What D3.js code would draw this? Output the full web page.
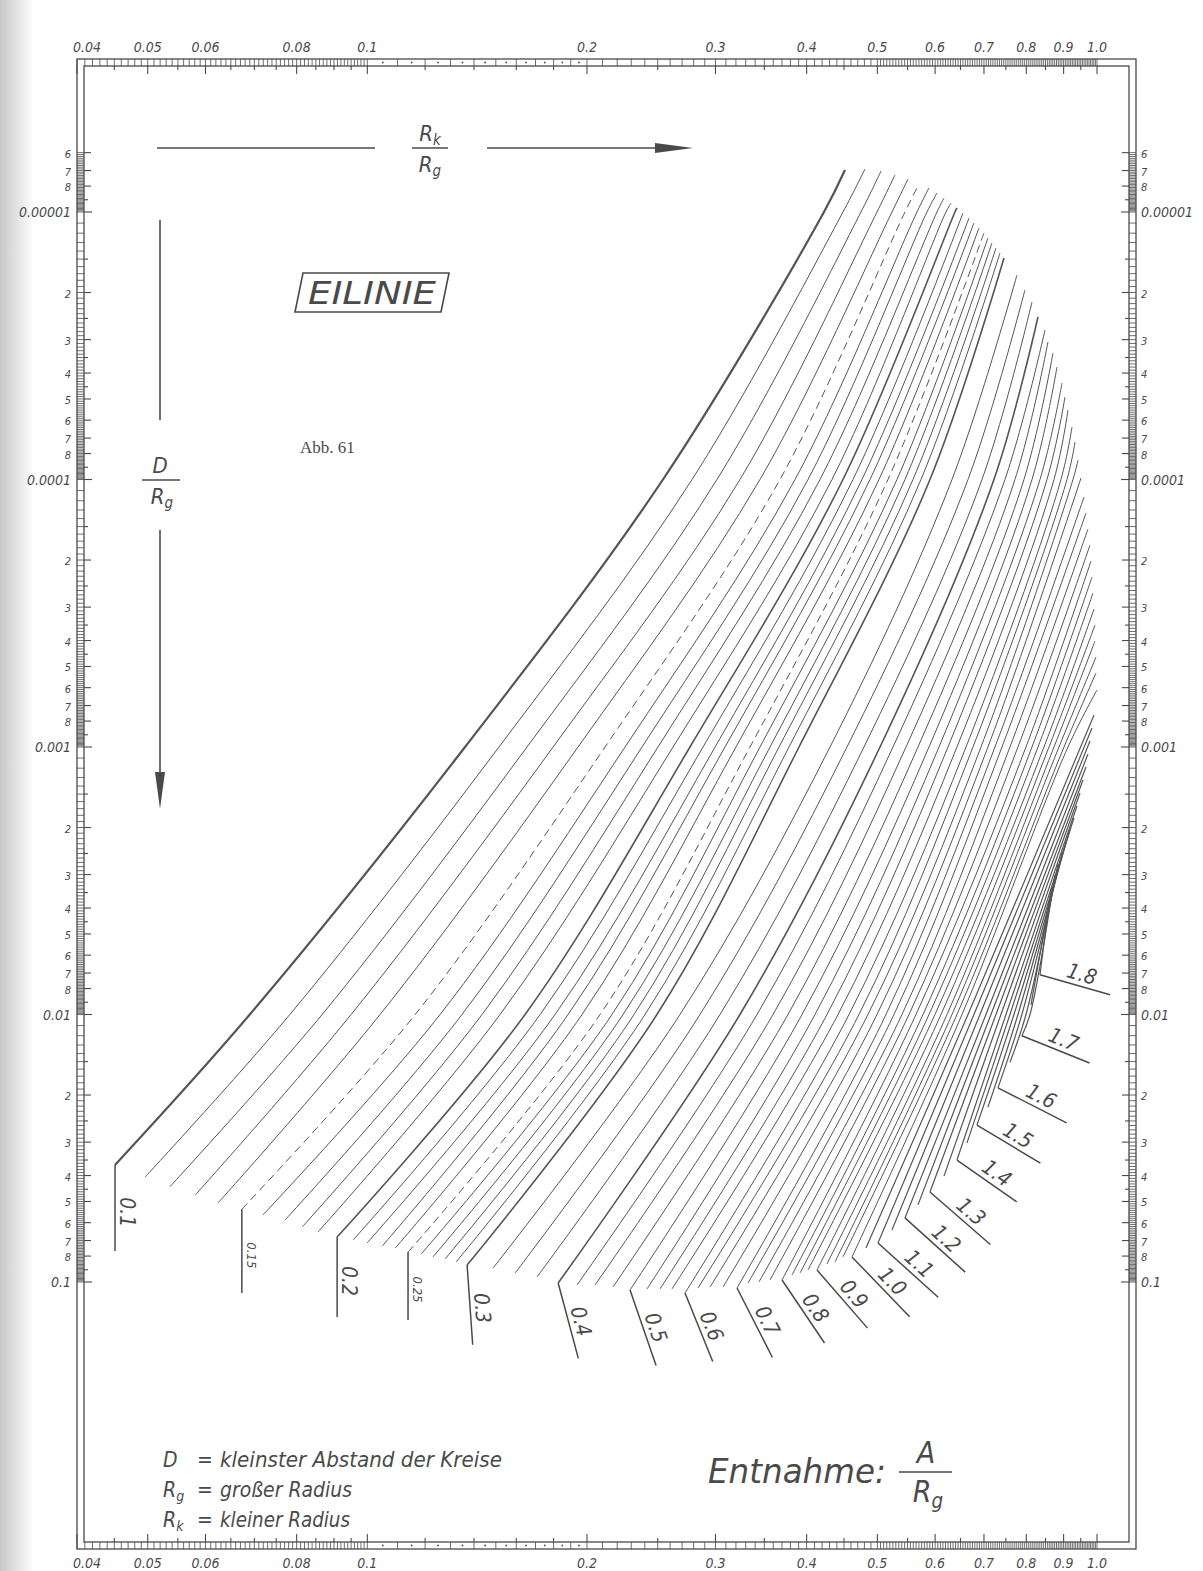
<!DOCTYPE html>
<html>
<head>
<meta charset="utf-8">
<script src="https://cdn.jsdelivr.net/npm/d3@7"></script>
<style>
  body { margin: 0; background: #fff; }
  svg { display: block; }
  text { font-family: "Liberation Sans Narrow", "DejaVu Sans Condensed", "DejaVu Sans", sans-serif; font-style: italic; fill: #4a4a4a; }
</style>
</head>
<body>
<svg id="chart" width="1203" height="1571"></svg>
<script>
// A/Rg of every curve
const aValues = [
  0.10, 0.11, 0.12, 0.13, 0.14, 0.15, 0.16, 0.17, 0.18, 0.19, 0.20, 0.21, 0.22, 0.23, 0.24, 0.25, 0.26, 0.27, 0.28, 0.29, 0.30,
  0.325, 0.35, 0.375, 0.40, 0.425, 0.45, 0.475, 0.50, 0.525, 0.55, 0.575, 0.60, 0.625, 0.65, 0.675, 0.70,
  0.725, 0.75, 0.775, 0.80, 0.825, 0.85, 0.875, 0.90, 0.925, 0.95, 0.975, 1.00,
  1.05, 1.10, 1.15, 1.20, 1.25, 1.30, 1.35, 1.40, 1.45, 1.50, 1.55, 1.60, 1.65, 1.70, 1.75, 1.80
];
// lower end of each curve (Rk/Rg, D/Rg)
const startRk = [
  0.0451, 0.0496, 0.0536, 0.0581, 0.0624, 0.0673, 0.0719, 0.0771, 0.0814, 0.0856, 0.0909, 0.0956, 0.0999, 0.1048, 0.1092, 0.1137, 0.1185, 0.1230, 0.1278, 0.1323, 0.1370,
  0.1487, 0.1594, 0.1708, 0.1826, 0.1938, 0.2051, 0.2171, 0.2291, 0.2417, 0.2518, 0.2615, 0.2725, 0.2839, 0.2949, 0.3072, 0.3211,
  0.3324, 0.3441, 0.3563, 0.3701, 0.3819, 0.3917, 0.4017, 0.4133, 0.4265, 0.4374, 0.4486, 0.4615,
  0.4823, 0.5010, 0.5236, 0.5455, 0.5684, 0.5903, 0.6170, 0.6428, 0.6635, 0.6847, 0.7088, 0.7316, 0.7598, 0.7889, 0.8119, 0.8353
];
const startD = [
  0.0365, 0.0405, 0.0441, 0.0473, 0.0507, 0.0534, 0.0562, 0.0587, 0.0623, 0.0650, 0.0679, 0.0697, 0.0715, 0.0734, 0.0747, 0.0773, 0.0786, 0.0806, 0.0820, 0.0842, 0.0864,
  0.0887, 0.0926, 0.0958, 0.1009, 0.1026, 0.1026, 0.1044, 0.1071, 0.1062, 0.1062, 0.1062, 0.1099, 0.1053, 0.1044, 0.1044, 0.1053,
  0.1009, 0.1000, 0.0983, 0.0983, 0.0942, 0.0926, 0.0902, 0.0902, 0.0856, 0.0842, 0.0806, 0.0806,
  0.0747, 0.0715, 0.0639, 0.0576, 0.0515, 0.0461, 0.0402, 0.0350, 0.0302, 0.0259, 0.0222, 0.0188, 0.0151, 0.0120, 0.0092, 0.0071
];
// Rk/Rg where each curve crosses D/Rg = 0.01, 0.001, 0.0001, 0.00001
const rkAt1e2 = [
  0.0690, 0.0783, 0.0867, 0.0950, 0.1041, 0.1163, 0.1258, 0.1348, 0.1436, 0.1520, 0.1645, 0.1725, 0.1808, 0.1884, 0.1969, 0.2084, 0.2164, 0.2241, 0.2320, 0.2402, 0.2494,
  0.2682, 0.2857, 0.3043, 0.3241, 0.3420, 0.3597, 0.3771, 0.3942, 0.4107, 0.4265, 0.4416, 0.4572, 0.4718, 0.4854, 0.4994, 0.5138,
  0.5269, 0.5404, 0.5525, 0.5648, 0.5775, 0.5885, 0.5997, 0.6112, 0.6229, 0.6328, 0.6428, 0.6531,
  0.6656, 0.6782, 0.6912, 0.7044, 0.7156, 0.7270, 0.7385, 0.7503, 0.7598, 0.7694, 0.7792, 0.7889, 0.7992, 0.8094, null, null
];
const rkAt1e3 = [
  0.1361, 0.1515, 0.1655, 0.1797, 0.1944, 0.2117, 0.2255, 0.2379, 0.2502, 0.2624, 0.2768, 0.2884, 0.2996, 0.3091, 0.3200, 0.3345, 0.3452, 0.3563, 0.3666, 0.3783, 0.3905,
  0.4306, 0.4543, 0.4793, 0.5042, 0.5253, 0.5473, 0.5684, 0.5885, 0.6073, 0.6248, 0.6428, 0.6614, 0.6761, 0.6934, 0.7088, 0.7247,
  0.7409, 0.7598, 0.7792, 0.7992, 0.8145, 0.8301, 0.8459, 0.8594, 0.8731, 0.8869, 0.9011, 0.9125,
  null, null, null, null, null, null, null, null, null, null, null, null, null, null, null, null
];
const rkAt1e4 = [
  0.2542, 0.2786, 0.3014, 0.3241, 0.3452, 0.3677, 0.3856, 0.4017, 0.4172, 0.4333, 0.4486, 0.4630, 0.4763, 0.4885, 0.5026, 0.5170, 0.5319, 0.5455, 0.5595, 0.5738, 0.5903,
  0.6328, 0.6656, 0.6956, 0.7224, 0.7479, 0.7719, 0.7941, 0.8145, 0.8353, 0.8540, 0.8731, 0.8925, 0.9096, 0.9270, null, null,
  null, null, null, null, null, null, null, null, null, null, null, null,
  null, null, null, null, null, null, null, null, null, null, null, null, null, null, null, null
];
const rkAt1e5 = [
  0.4225, 0.4486, 0.4748, 0.4994, 0.5236, 0.5455, 0.5666, 0.5848, 0.6035, 0.6209, 0.6388, null, null, null, null, null, null, null, null, null, null,
  null, null, null, null, null, null, null, null, null, null, null, null, null, null, null, null,
  null, null, null, null, null, null, null, null, null, null, null, null,
  null, null, null, null, null, null, null, null, null, null, null, null, null, null, null, null
];
// upper end of each curve
const endRk = [
  0.4514, 0.4808, 0.5058, 0.5286, 0.5507, 0.5702, 0.5885, 0.6035, 0.6170, 0.6308, 0.6428, 0.6551, 0.6677, 0.6782, 0.6890, 0.7000, 0.7088, 0.7178, 0.7270, 0.7362, 0.7456,
  0.7768, 0.7966, 0.8145, 0.8301, 0.8486, 0.8567, 0.8703, 0.8813, 0.8954, 0.9039, 0.9125, 0.9241, 0.9329, 0.9418, 0.9508, 0.9598,
  0.9659, 0.9720, 0.9781, 0.9812, 0.9843, 0.9874, 0.9906, 0.9937, 0.9937, 0.9969, 0.9969, 1.0000,
  0.9906, 0.9843, 0.9781, 0.9720, 0.9659, 0.9568, 0.9478, 0.9388, 0.9299, 0.9183, 0.9068, 0.8954, 0.8841, 0.8758, 0.8676, 0.8621
];
const endD = [
  6.97e-6, 6.91e-6, 7.03e-6, 7.27e-6, 7.53e-6, 7.86e-6, 8.13e-6, 8.49e-6, 8.87e-6, 9.26e-6, 9.66e-6, 1.009e-5, 1.053e-5, 1.099e-5, 1.148e-5, 1.198e-5, 1.251e-5, 1.306e-5, 1.363e-5, 1.423e-5, 1.486e-5,
  1.720e-5, 1.956e-5, 2.170e-5, 2.469e-5, 2.761e-5, 3.062e-5, 3.366e-5, 3.797e-5, 4.357e-5, 4.916e-5, 5.497e-5, 6.364e-5, 7.243e-5, 8.456e-5, 9.872e-5, 1.163e-4,
  1.334e-4, 1.531e-4, 1.758e-4, 2.017e-4, 2.315e-4, 2.657e-4, 3.049e-4, 3.499e-4, 4.016e-4, 4.610e-4, 5.288e-4, 6.120e-4,
  7.592e-4, 8.492e-4, 9.497e-4, 1.062e-3, 1.188e-3, 1.328e-3, 1.486e-3, 1.662e-3, 1.842e-3, 2.043e-3, 2.265e-3, 2.490e-3, 2.738e-3, 3.011e-3, 3.309e-3, 3.637e-3
];
const dashedCurves = [0.15, 0.25];
const boldCurves = [0.2, 0.3, 0.4];

// curve labels with their leader lines
const labelValues = [0.1, 0.15, 0.2, 0.25, 0.3, 0.4, 0.5, 0.6, 0.7, 0.8, 0.9, 1.0, 1.1, 1.2, 1.3, 1.4, 1.5, 1.6, 1.7, 1.8];
const labelTexts = ["0.1", "0.15", "0.2", "0.25", "0.3", "0.4", "0.5", "0.6", "0.7", "0.8", "0.9", "1.0", "1.1", "1.2", "1.3", "1.4", "1.5", "1.6", "1.7", "1.8"];
const leaderAngle = [90, 90, 90, 90, 86, 75, 71, 68, 63, 56, 49, 46, 42, 42, 41, 35, 31, 27, 22, 16];
const leaderLen = [86, 84, 80, 68, 80, 78, 80, 74, 78, 76, 77, 83, 81, 81, 80, 73, 74, 77, 73, 73];

// axis labels
const xTickValues = [0.04, 0.05, 0.06, 0.08, 0.1, 0.2, 0.3, 0.4, 0.5, 0.6, 0.7, 0.8, 0.9, 1.0];
const xTickLabels = ["0.04", "0.05", "0.06", "0.08", "0.1", "0.2", "0.3", "0.4", "0.5", "0.6", "0.7", "0.8", "0.9", "1.0"];
const xMidTicks = [0.045, 0.055, 0.065, 0.07, 0.075, 0.085, 0.09, 0.095, 0.12, 0.14, 0.16, 0.18, 0.25, 0.35, 0.45, 0.55, 0.65, 0.75, 0.85, 0.95];
const yDecades = [1e-5, 1e-4, 1e-3, 1e-2, 1e-1];
const yDecadeLabels = ["0.00001", "0.0001", "0.001", "0.01", "0.1"];
const yDigitMantissas = [2, 3, 4, 5, 6, 7, 8];
const yMidMantissas = [1.5, 2.5, 3.5, 4.5, 9];

const ink = "#4a4a4a";
const curveInk = "#555";
const svg = d3.select("#chart");

const x = d3.scaleLog().domain([0.04, 1]).range([77, 1097]);
const y = d3.scaleLog().domain([1e-5, 0.1]).range([212, 1282]);

// scan shadow on the left edge
const defs = svg.append("defs");
const grad = defs.append("linearGradient").attr("id", "shade");
grad.append("stop").attr("offset", "0").attr("stop-color", "#c8c8c8");
grad.append("stop").attr("offset", "1").attr("stop-color", "#ffffff");
svg.append("rect").attr("x", 0).attr("y", 0).attr("width", 34).attr("height", 1571).attr("fill", "url(#shade)");

// frame (double line)
const fr = { l: 77, r: 1136, t: 59, b: 1549, s: 7 };
const frame = svg.append("g").attr("fill", "none").attr("stroke", ink).attr("stroke-width", 1.3);
frame.append("rect").attr("x", fr.l).attr("y", fr.t).attr("width", fr.r - fr.l).attr("height", fr.b - fr.t);
frame.append("rect").attr("x", fr.l + fr.s).attr("y", fr.t + fr.s)
  .attr("width", fr.r - fr.l - 2 * fr.s).attr("height", fr.b - fr.t - 2 * fr.s);

// ladder rungs
const xRungs = [].concat(
  d3.range(40, 100).map(v => v / 1000),
  d3.range(10, 20).map(v => v / 100),
  d3.range(20, 50).map(v => v / 100),
  d3.range(100, 201).map(v => v / 200)
);
const xDots = d3.range(10, 20).map(v => v / 100 + 0.005);
const yRungs = [];
for (let e = -6; e <= -2; e++) {
  for (let m = 10; m < 100; m++) {
    if (e === -6 && m < 60) continue;
    yRungs.push(m / 10 * Math.pow(10, e));
  }
}
yRungs.push(0.1);

const rungs = svg.append("g").attr("stroke", ink).attr("stroke-width", 0.8);
[[fr.t, fr.t + fr.s], [fr.b - fr.s, fr.b]].forEach(([y0, y1]) => {
  rungs.selectAll(null).data(xRungs).join("line")
    .attr("x1", d => x(d)).attr("x2", d => x(d)).attr("y1", y0).attr("y2", y1);
  rungs.selectAll(null).data(xDots).join("circle")
    .attr("cx", d => x(d)).attr("cy", (y0 + y1) / 2).attr("r", 0.9).attr("fill", ink).attr("stroke", "none");
});
[[fr.l, fr.l + fr.s], [fr.r - fr.s, fr.r]].forEach(([x0, x1]) => {
  rungs.selectAll(null).data(yRungs).join("line")
    .attr("y1", d => y(d)).attr("y2", d => y(d)).attr("x1", x0).attr("x2", x1);
});

// outward ticks
const ticks = svg.append("g").attr("stroke", ink).attr("stroke-width", 1.1);
const xTickSet = xTickValues.map(v => [v, 8]).concat(xMidTicks.map(v => [v, 4]));
ticks.selectAll(null).data(xTickSet).join("line")
  .attr("x1", d => x(d[0])).attr("x2", d => x(d[0]))
  .attr("y1", fr.t + fr.s).attr("y2", d => fr.t + fr.s + d[1]);
ticks.selectAll(null).data(xTickSet).join("line")
  .attr("x1", d => x(d[0])).attr("x2", d => x(d[0]))
  .attr("y1", fr.b - fr.s).attr("y2", d => fr.b - fr.s - d[1]);

const yTickSet = [];
[6, 7, 8, 9].forEach(m => yTickSet.push([m * 1e-6, m === 9 ? 4 : 7]));
for (let e = -5; e <= -1; e++) {
  yTickSet.push([Math.pow(10, e), 8]);
  if (e === -1) break;
  yDigitMantissas.forEach(m => yTickSet.push([m * Math.pow(10, e), 7]));
  yMidMantissas.forEach(m => yTickSet.push([m * Math.pow(10, e), 4]));
}
ticks.selectAll(null).data(yTickSet).join("line")
  .attr("y1", d => y(d[0])).attr("y2", d => y(d[0]))
  .attr("x1", fr.l + fr.s).attr("x2", d => fr.l + fr.s + d[1]);
ticks.selectAll(null).data(yTickSet).join("line")
  .attr("y1", d => y(d[0])).attr("y2", d => y(d[0]))
  .attr("x1", fr.r - fr.s).attr("x2", d => fr.r - fr.s - d[1]);

// axis labels
const axisText = svg.append("g").attr("font-size", 14);
axisText.selectAll(null).data(xTickValues).join("text")
  .attr("x", (d, i) => x(d) + (i === 0 ? 10 : 0)).attr("y", 52)
  .attr("text-anchor", "middle").text((d, i) => xTickLabels[i]);
axisText.selectAll(null).data(xTickValues).join("text")
  .attr("x", (d, i) => x(d) + (i === 0 ? 10 : 0)).attr("y", 1568)
  .attr("text-anchor", "middle").text((d, i) => xTickLabels[i]);

const yLabelSet = [];
[6, 7, 8].forEach(m => yLabelSet.push([m * 1e-6, String(m), 11]));
yDecades.forEach((v, i) => {
  yLabelSet.push([v, yDecadeLabels[i], 14]);
  if (i < yDecades.length - 1) yDigitMantissas.forEach(m => yLabelSet.push([m * v, String(m), 11]));
});
axisText.selectAll(null).data(yLabelSet).join("text")
  .attr("x", 71).attr("y", d => y(d[0]) + 5).attr("text-anchor", "end")
  .attr("font-size", d => d[2]).text(d => d[1]);
axisText.selectAll(null).data(yLabelSet).join("text")
  .attr("x", 1141).attr("y", d => y(d[0]) + 5).attr("text-anchor", "start")
  .attr("font-size", d => d[2]).text(d => d[1]);

// curves
const levels = [1e-2, 1e-3, 1e-4, 1e-5];
const levelRk = [rkAt1e2, rkAt1e3, rkAt1e4, rkAt1e5];
const curves = aValues.map((a, i) => {
  const pts = [[startRk[i], startD[i]]];
  levels.forEach((lv, k) => {
    const r = levelRk[k][i];
    if (r != null && lv < startD[i] && lv > endD[i]) pts.push([r, lv]);
  });
  pts.push([endRk[i], endD[i]]);
  return { a, pts };
});
const same = (p, q) => Math.abs(p - q) < 1e-9;
const line = d3.line().x(d => x(d[0])).y(d => y(d[1])).curve(d3.curveCatmullRom.alpha(0.5));

svg.append("g").attr("fill", "none").attr("stroke", curveInk)
  .selectAll("path").data(curves).join("path")
  .attr("d", d => line(d.pts))
  .attr("stroke-width", d => same(d.a, 0.1) ? 2.2 : boldCurves.some(b => same(b, d.a)) ? 1.6 : d.a > 1.0 ? 1.2 : 1.0)
  .attr("stroke-dasharray", d => dashedCurves.some(b => same(b, d.a)) ? "8,5" : null);

// leaders and curve labels
const lab = svg.append("g");
labelValues.forEach((v, j) => {
  const i = aValues.findIndex(a => same(a, v));
  const x0 = x(startRk[i]), y0 = y(startD[i]);
  const th = leaderAngle[j] * Math.PI / 180;
  const x1 = x0 + leaderLen[j] * Math.cos(th), y1 = y0 + leaderLen[j] * Math.sin(th);
  lab.append("line").attr("x1", x0).attr("y1", y0).attr("x2", x1).attr("y2", y1)
    .attr("stroke", ink).attr("stroke-width", 1.5);
  const small = labelTexts[j].length > 3;
  const t = 0.55;
  lab.append("text")
    .attr("transform", `translate(${x0 + t * (x1 - x0)},${y0 + t * (y1 - y0)}) rotate(${leaderAngle[j]})`)
    .attr("x", 0).attr("y", -5).attr("text-anchor", "middle")
    .attr("font-size", small ? 13 : 21).text(labelTexts[j]);
});

// direction arrows and titles
const deco = svg.append("g").attr("stroke", ink).attr("stroke-width", 1.6);
deco.append("line").attr("x1", 157).attr("y1", 148).attr("x2", 375).attr("y2", 148);
deco.append("line").attr("x1", 487).attr("y1", 148).attr("x2", 660).attr("y2", 148);
deco.append("path").attr("d", "M655,143 L693,148 L655,153 Z").attr("fill", ink).attr("stroke", "none");
deco.append("line").attr("x1", 160).attr("y1", 220).attr("x2", 160).attr("y2", 420);
deco.append("line").attr("x1", 160).attr("y1", 530).attr("x2", 160).attr("y2", 780);
deco.append("path").attr("d", "M155,772 L160,809 L165,772 Z").attr("fill", ink).attr("stroke", "none");
// fraction bars
deco.append("line").attr("x1", 412).attr("y1", 148).attr("x2", 448).attr("y2", 148).attr("stroke-width", 1.4);
deco.append("line").attr("x1", 142).attr("y1", 480).attr("x2", 180).attr("y2", 480).attr("stroke-width", 1.4);
deco.append("line").attr("x1", 899).attr("y1", 1472).attr("x2", 952).attr("y2", 1472).attr("stroke-width", 1.6);

function fracPart(g, cx, cy, size, base, sub) {
  const t = g.append("text").attr("x", cx).attr("y", cy).attr("text-anchor", "middle").attr("font-size", size);
  t.append("tspan").text(base);
  if (sub) t.append("tspan").attr("font-size", size * 0.68).attr("dy", size * 0.2).text(sub);
}
const titles = svg.append("g");
fracPart(titles, 430, 141, 22, "R", "k");
fracPart(titles, 430, 172, 22, "R", "g");
fracPart(titles, 160, 473, 22, "D", null);
fracPart(titles, 162, 504, 22, "R", "g");

// EILINIE box
svg.append("path").attr("d", "M303,273 L449,273 L441,312 L295,312 Z")
  .attr("fill", "none").attr("stroke", ink).attr("stroke-width", 1.6);
svg.append("text").attr("x", 372).attr("y", 304).attr("text-anchor", "middle")
  .attr("font-size", 32).attr("textLength", 128).attr("lengthAdjust", "spacingAndGlyphs").text("EILINIE");

svg.append("text").attr("x", 300).attr("y", 453).attr("font-size", 17)
  .style("font-family", "'Liberation Serif', 'DejaVu Serif', serif").style("font-style", "normal").text("Abb. 61");

// legend
const leg = svg.append("g").attr("font-size", 21);
const legRows = [
  ["D", null, "kleinster Abstand der Kreise", 282, 1467],
  ["R", "g", "großer Radius", 132, 1497],
  ["R", "k", "kleiner Radius", 130, 1527]
];
legRows.forEach(r => {
  const t = leg.append("text").attr("x", 163).attr("y", r[4]);
  t.append("tspan").text(r[0]);
  if (r[1]) t.append("tspan").attr("font-size", 14).attr("dy", 4).text(r[1]);
  leg.append("text").attr("x", 197).attr("y", r[4]).text("=");
  leg.append("text").attr("x", 220).attr("y", r[4]).attr("textLength", r[3])
    .attr("lengthAdjust", "spacingAndGlyphs").text(r[2]);
});

svg.append("text").attr("x", 708).attr("y", 1483).attr("font-size", 34)
  .attr("textLength", 178).attr("lengthAdjust", "spacingAndGlyphs").text("Entnahme:");
fracPart(svg, 926, 1463, 30, "A", null);
fracPart(svg, 928, 1502, 30, "R", "g");
</script>
</body>
</html>
